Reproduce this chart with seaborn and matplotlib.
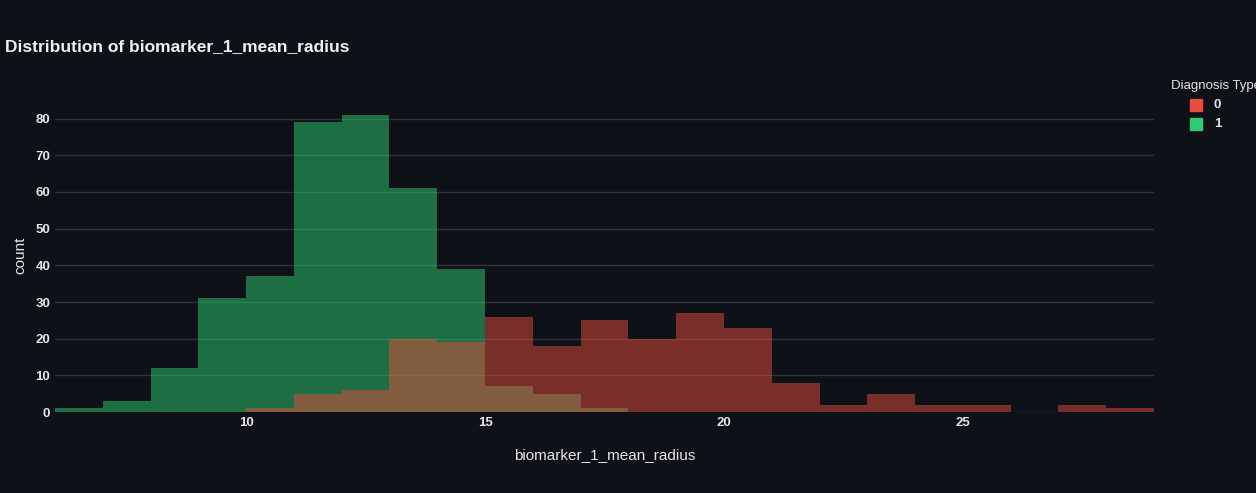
import numpy as np
import pandas as pd
import matplotlib
matplotlib.use('Agg')
import matplotlib.pyplot as plt
import seaborn as sns

# bin edges 6..29, width 1
bin_left = list(range(6, 29))
counts_0 = [0, 0, 0, 0, 1, 5, 6, 20, 19, 26, 18, 25, 20, 27, 23, 8, 2, 5, 2, 2, 0, 2, 1]
counts_1 = [1, 3, 12, 31, 37, 79, 81, 61, 39, 7, 5, 1, 0, 0, 0, 0, 0, 0, 0, 0, 0, 0, 0]

df = pd.DataFrame({
    'x': [b + 0.5 for b in bin_left] * 2,
    'count': counts_0 + counts_1,
    'Diagnosis Type': ['0'] * len(bin_left) + ['1'] * len(bin_left),
})

bg = '#0e1117'
sns.set_theme(style='dark')
plt.rcParams['font.family'] = ['Liberation Sans', 'DejaVu Sans']

fig = plt.figure(figsize=(12.56, 4.93), dpi=100, facecolor=bg)
ax = fig.add_axes([0.0438, 0.164, 0.875, 0.635])
ax.set_facecolor(bg)

pal = {'0': '#e74c3c', '1': '#2ecc71'}
sns.histplot(data=df, x='x', weights='count', hue='Diagnosis Type', bins=23, binrange=(6, 29),
             palette=pal, alpha=0.5, element='bars', multiple='layer', linewidth=0,
             ax=ax, legend=False)

ax.set_xlim(6, 29)
ax.set_ylim(0, 85.3)
ax.set_xticks([10, 15, 20, 25])
ax.set_yticks(range(0, 81, 10))
ax.grid(axis='y', color='#2f333a', linewidth=1)
ax.grid(axis='x', visible=False)
ax.set_axisbelow(True)
for s in ax.spines.values():
    s.set_visible(False)
ax.tick_params(colors='#e6e6e6', labelsize=9.5, length=0)
for lab in ax.get_xticklabels() + ax.get_yticklabels():
    lab.set_fontweight('bold')
ax.set_xlabel('biomarker_1_mean_radius', color='#e6e6e6', fontsize=11, labelpad=14)
ax.set_ylabel('count', color='#e6e6e6', fontsize=11, labelpad=6)

fig.text(0.004, 0.905, 'Distribution of biomarker_1_mean_radius', color='#f0f0f0',
         fontsize=12.5, fontweight='bold', va='center')

fig.text(0.932, 0.825, 'Diagnosis Type', color='#e6e6e6', fontsize=9.5, va='center')
for i, k in enumerate(['0', '1']):
    y = 0.787 - i * 0.039
    fig.patches.append(plt.Rectangle((0.9475, y - 0.012), 0.0095, 0.024, color=pal[k],
                                     transform=fig.transFigure, figure=fig))
    fig.text(0.9665, y, k, color='#e6e6e6', fontsize=9.5, fontweight='bold', va='center')

fig.savefig('out.png', dpi=100, facecolor=bg)
